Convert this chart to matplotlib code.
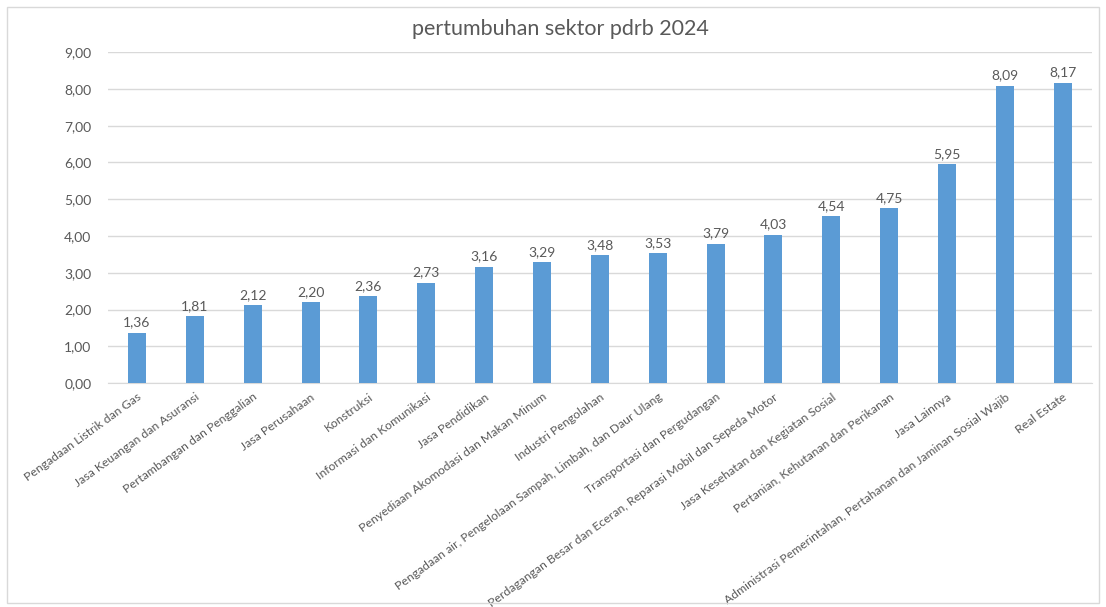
import matplotlib.pyplot as plt
from matplotlib.patches import Rectangle

plt.rcParams['font.family'] = ['Lato', 'DejaVu Sans']

sectors = [
    'Pengadaan Listrik dan Gas',
    'Jasa Keuangan dan Asuransi',
    'Pertambangan dan Penggalian',
    'Jasa Perusahaan',
    'Konstruksi',
    'Informasi dan Komunikasi',
    'Jasa Pendidikan',
    'Penyediaan Akomodasi dan Makan Minum',
    'Industri Pengolahan',
    'Pengadaan air, Pengelolaan Sampah, Limbah, dan Daur Ulang',
    'Transportasi dan Pergudangan',
    'Perdagangan Besar dan Eceran, Reparasi Mobil dan Sepeda Motor',
    'Jasa Kesehatan dan Kegiatan Sosial',
    'Pertanian, Kehutanan dan Perikanan',
    'Jasa Lainnya',
    'Administrasi Pemerintahan, Pertahanan dan Jaminan Sosial Wajib',
    'Real Estate',
]
growth = [1.36, 1.81, 2.12, 2.20, 2.36, 2.73, 3.16, 3.29, 3.48, 3.53,
          3.79, 4.03, 4.54, 4.75, 5.95, 8.09, 8.17]
yticks = [0, 1, 2, 3, 4, 5, 6, 7, 8, 9]

grey = '#595959'

fig = plt.figure(figsize=(11.06, 6.07), dpi=100)
ax = fig.add_axes([0.0977, 0.369, 0.8893, 0.545])

x = range(len(sectors))
bars = ax.bar(x, growth, width=0.31, color='#5B9BD5', zorder=3)

for b, v in zip(bars, growth):
    ax.text(b.get_x() + b.get_width() / 2, v + 0.12, f'{v:.2f}'.replace('.', ','),
            ha='center', va='bottom', fontsize=10, color=grey)

ax.set_xlim(-0.5, len(sectors) - 0.5)
ax.set_ylim(0, 9)
ax.set_yticks(yticks)
ax.set_yticklabels([f'{t:.2f}'.replace('.', ',') for t in yticks], fontsize=10, color=grey)
ax.set_xticks(list(x))
ax.set_xticklabels(sectors, rotation=36, ha='right', rotation_mode='anchor',
                   fontsize=8.8, color=grey)
ax.tick_params(axis='y', length=0, pad=12)
ax.tick_params(axis='x', length=0, pad=6)

ax.grid(axis='y', color='#D9D9D9', linewidth=1, zorder=0)
for s in ['top', 'right', 'left']:
    ax.spines[s].set_visible(False)
ax.spines['bottom'].set_color('#D9D9D9')

fig.text(0.507, 0.953, 'pertumbuhan sektor pdrb 2024', ha='center', va='center',
         fontsize=15.5, color=grey)

fig.patches.append(Rectangle((0.006, 0.006), 0.988, 0.982, transform=fig.transFigure,
                             fill=False, edgecolor='#D9D9D9', linewidth=1))

fig.savefig('out.png', dpi=100)
